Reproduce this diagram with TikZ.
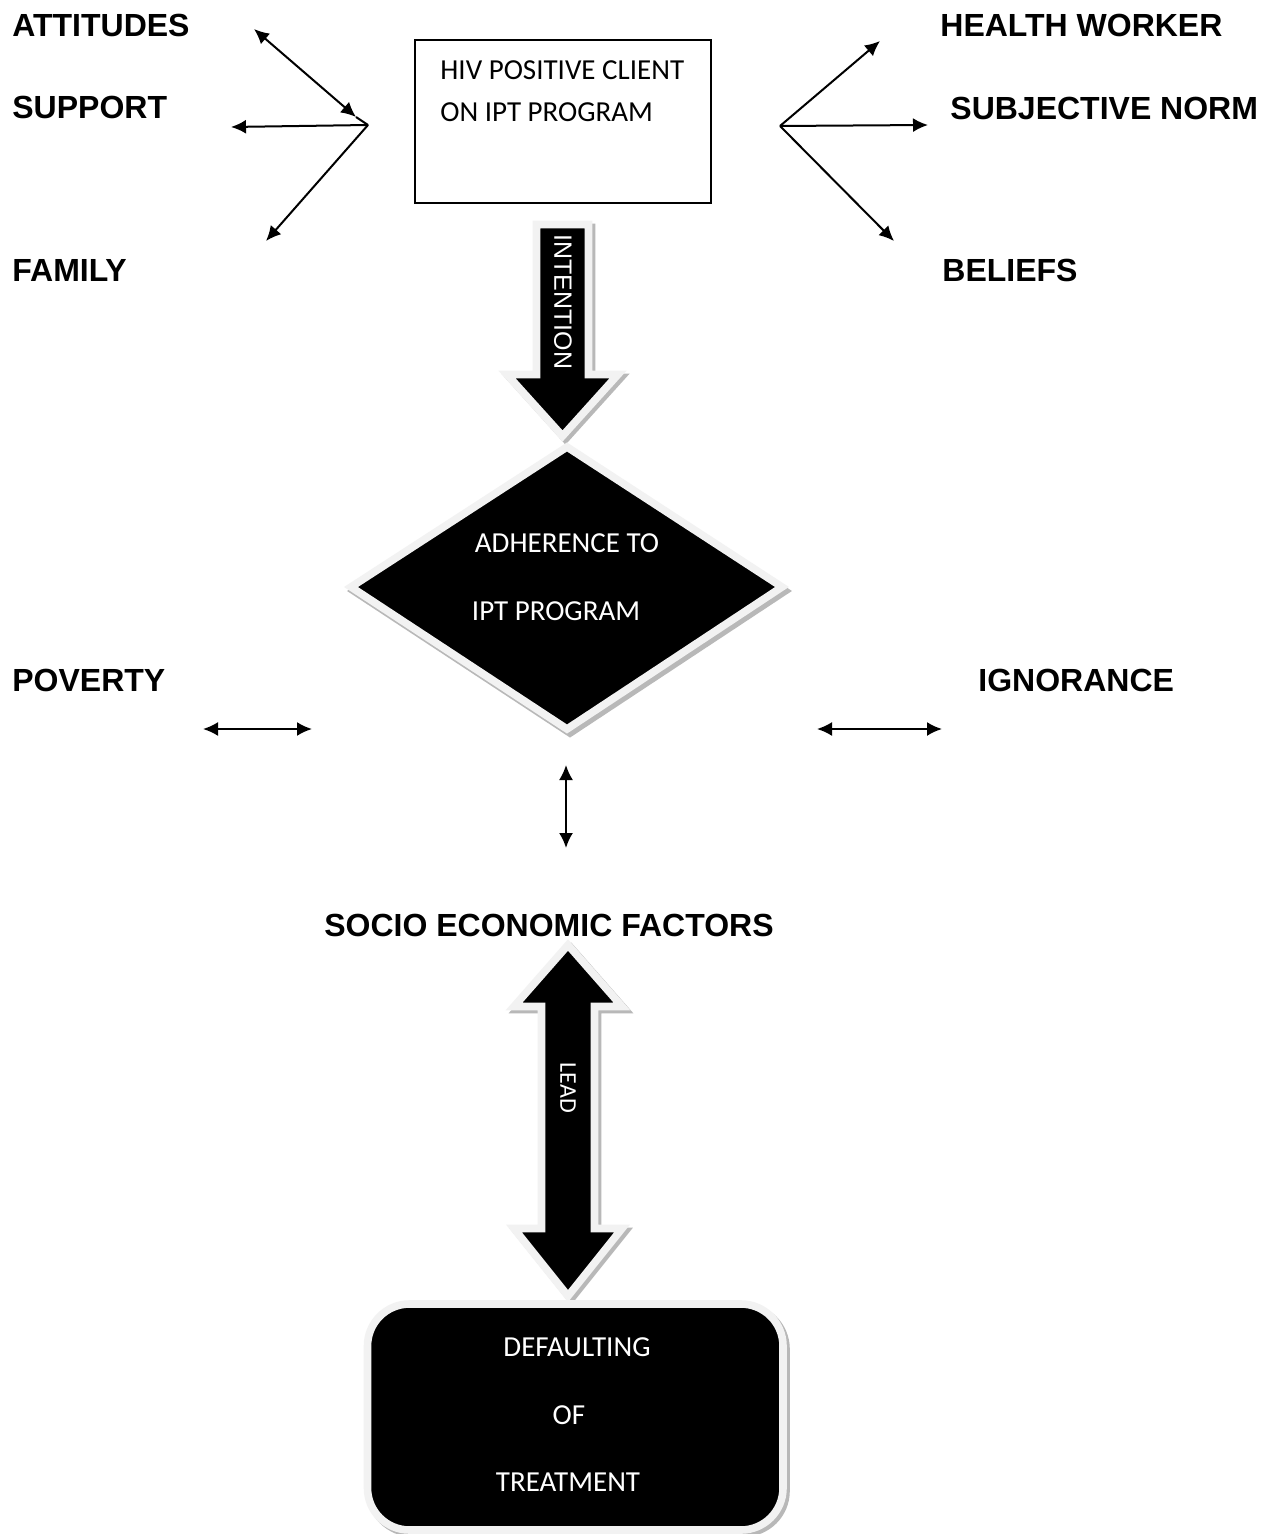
\documentclass[tikz,border=0pt]{standalone}
\usepackage{fontspec}
\setmainfont{Liberation Sans}
\newfontfamily\calib{Carlito}
\usetikzlibrary{arrows.meta}
\begin{document}
\begin{tikzpicture}[x=0.5pt,y=-0.5pt,
  lab/.style={font=\bfseries\fontsize{16}{19}\selectfont, anchor=west, inner sep=0pt},
  intxt/.style={font=\calib\fontsize{14.5}{17}\selectfont, inner sep=0pt},
  conn/.style={line width=1pt, -{Latex[length=7.5pt,width=7pt]}},
  dconn/.style={line width=1pt, {Latex[length=7.5pt,width=7pt]}-{Latex[length=7.5pt,width=7pt]}},
  lightedge/.style={draw=black!5, line width=3.8pt, fill=black, line join=miter},
  shadowed/.style={draw=black!28, line width=3.8pt, fill=black!28, line join=miter}]
\useasboundingbox[fill=white] (0,0) rectangle (1268,1534);

% labels
\node[lab] (att) at (12,25) {ATTITUDES};
\node[lab] (sup) at (12,107) {SUPPORT};
\node[lab] (fam) at (12,270) {FAMILY};
\node[lab] (hw) at (940,25) {HEALTH WORKER};
\node[lab] (sn) at (950,108) {SUBJECTIVE NORM};
\node[lab] (bel) at (942,270) {BELIEFS};
\node[lab] (pov) at (12,680) {POVERTY};
\node[lab] (ign) at (978,680) {IGNORANCE};
\node[lab, anchor=center] (sef) at (549,925) {SOCIO ECONOMIC FACTORS};

% client box
\node[draw, line width=0.7pt, minimum width=148pt, minimum height=81.5pt, inner sep=0pt] (client) at (563,121.5) {};
\node[intxt, anchor=west] (c1) at (440,70) {HIV POSITIVE CLIENT};
\node[intxt, anchor=west] (c2) at (440,112) {ON IPT PROGRAM};

% left fan
\coordinate (lv) at (368,125);
\coordinate (latt) at (254,29);
\coordinate (lattb) at (356,117);
\coordinate (lsup) at (231,127);
\coordinate (lfam) at (266,241);
\draw[dconn] (latt) -- (lattb);
\draw[line width=1pt] (lattb) -- (lv);
\draw[conn] (lv) -- (lsup);
\draw[conn] (lv) -- (lfam);

% right fan
\coordinate (rv) at (780,126);
\coordinate (rhw) at (880,41);
\coordinate (rsn) at (928,125);
\coordinate (rbel) at (894,241);
\draw[conn] (rv) -- (rhw);
\draw[conn] (rv) -- (rsn);
\draw[conn] (rv) -- (rbel);

% intention arrow
\def\intpath{(536.5,224.5) -- (588.5,224.5) -- (588.5,374.5) -- (618,374.5) -- (562.5,436) -- (507,374.5) -- (536.5,374.5) -- cycle}
\begin{scope}[shift={(3,3)}]
\path[shadowed] \intpath;
\end{scope}
\path[lightedge] \intpath;
\node[rotate=-90, text=white, font=\fontsize{12.5}{14}\selectfont, inner sep=0pt] (intention) at (563,302) {INTENTION};

% diamond
\def\diapath{(567,447) -- (782,587) -- (567,729) -- (351,587) -- cycle}
\begin{scope}[shift={(3,4)}]
\path[shadowed] \diapath;
\end{scope}
\path[lightedge] \diapath;
\node[intxt, text=white] (ad1) at (567,543) {ADHERENCE TO};
\node[intxt, text=white] (ad2) at (556,611) {IPT PROGRAM};

% small arrows
\coordinate (p1) at (203,729);
\coordinate (p2) at (312,729);
\coordinate (i1) at (817,729);
\coordinate (i2) at (942,729);
\coordinate (v1) at (566,765);
\coordinate (v2) at (566,848);
\draw[dconn] (p1) -- (p2);
\draw[dconn] (i1) -- (i2);
\draw[dconn] (v1) -- (v2);

% lead arrow
\def\leadpath{(568,945) -- (622,1006.5) -- (594.5,1006.5) -- (594.5,1228.5) -- (622,1228.5) -- (568,1296) -- (514,1228.5) -- (541.5,1228.5) -- (541.5,1006.5) -- (514,1006.5) -- cycle}
\begin{scope}[shift={(3,3)}]
\path[shadowed] \leadpath;
\end{scope}
\path[lightedge] \leadpath;
\node[rotate=-90, text=white, font=\calib\fontsize{12}{14}\selectfont, inner sep=0pt] (lead) at (568,1088) {LEAD};

% defaulting box
\def\defpath{[rounded corners=21pt] (367.5,1304) rectangle (783,1530)}
\begin{scope}[shift={(3,3)}]
\path[shadowed] \defpath;
\end{scope}
\path[lightedge] \defpath;
\node[intxt, text=white] (d1) at (577,1347) {DEFAULTING};
\node[intxt, text=white] (d2) at (569,1415) {OF};
\node[intxt, text=white] (d3) at (568,1482) {TREATMENT};
\end{tikzpicture}
\end{document}
